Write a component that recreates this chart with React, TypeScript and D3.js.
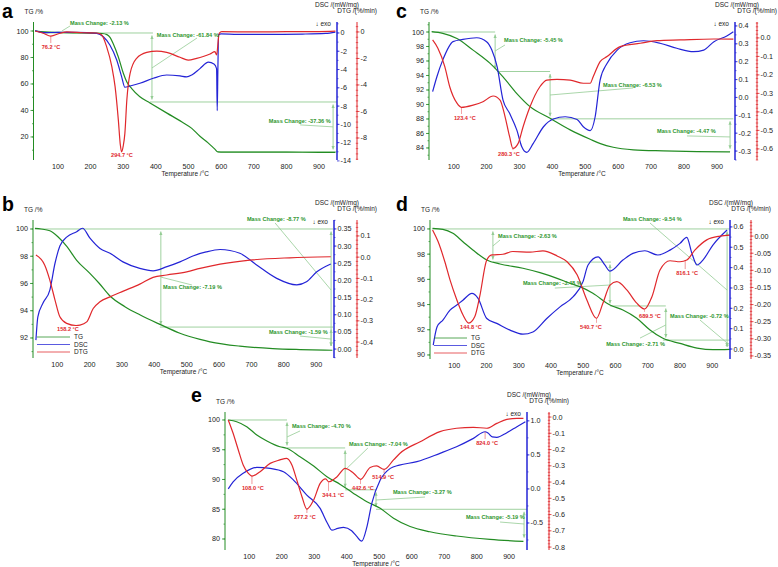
import React from 'react';
import * as d3 from 'd3';

type Pt = [number, number];
type SKey = 'tg' | 'dsc' | 'dtg';

const FONT = '"Liberation Sans", Arial, Helvetica, sans-serif';
const C_TG = '#238c23';
const C_DSC = '#2424d6';
const C_DTG = '#e0282c';
const C_ANN = '#2f962f';
const C_ANN_LINE = '#94cc94';

const tempDomain: [number, number] = [25, 955];
const tempTicks = [100, 200, 300, 400, 500, 600, 700, 800, 900];
const legendNames = ['TG', 'DSC', 'DTG'];

// ---------------- panel a ----------------
const aTG: Pt[] = [[30,100],[60,99.3],[100,98.9],[150,98.6],[200,98.4],[235,98.1],[250,97.3],[260,95],[270,90],[285,80.4],[300,68.3],[311,61.5],[326,56.5],[350,50.5],[382,45.7],[434,38],[480,31.3],[510,26.5],[535,20.5],[560,15.5],[580,11],[590,8.8],[610,8.6],[700,8.5],[800,8.5],[900,8.4],[950,8.4]];
const aDSC: Pt[] = [[30,0.25],[55,0.03],[101,0.07],[157,0.07],[219,-0.04],[239,-0.41],[259,-1.32],[280,-2.96],[295,-4.78],[305,-5.94],[321,-5.8],[351,-5.5],[392,-4.96],[433,-4.6],[474,-4.7],[494,-4.8],[510,-4.6],[535,-3.9],[561,-3.2],[578,-3.4],[586,-3.9],[588,-8.5],[590,-4],[592,-0.2],[600,-0.1],[650,-0.15],[750,-0.15],[850,-0.12],[920,-0.05],[950,0.1]];
const aDTG: Pt[] = [[30,0.07],[55,-0.1],[78,-0.31],[106,-0.1],[127,0.0],[178,-0.06],[219,-0.08],[234,-0.23],[249,-1.11],[265,-2.62],[275,-4.13],[285,-6.65],[291,-8.5],[295,-9.05],[300,-8.6],[305,-7.65],[311,-5.14],[321,-3.12],[341,-1.99],[372,-1.54],[403,-1.44],[433,-1.54],[474,-1.91],[499,-2.12],[525,-1.99],[545,-1.85],[566,-1.66],[581,-1.49],[586,-1.74],[594,-0.1],[602,0.02],[700,0.0],[800,0.02],[900,0.03],[950,0.06]];
const aTGDomain: [number, number] = [2.6, 106.8];
const aDSCDomain: [number, number] = [-13.9, 1.2];
const aDTGDomain: [number, number] = [-9.66, 0.75];
const aTGTicks = [20, 40, 60, 80, 100];
const aDSCTicks = [0, -2, -4, -6, -8, -10, -12, -14];
const aDTGTicks = [0, -2, -4, -6, -8];
const aHLines: [number, number, number][] = [[60, 391, 98.5], [382, 955, 46.4], [590, 955, 8.7]];
const aSteps = [
  { text: 'Mass Change: -2.13 %', at: null, hi: 100, lo: 98.5, tx: 137, ty: 104.5, lead: [112, 100, 137, 103.8] },
  { text: 'Mass Change: -61.84 %', at: 388, hi: 98.5, lo: 46.4, tx: 403, ty: 95.5, lead: [388, 72.1, 526, 94.7] },
  { text: 'Mass Change: -37.36 %', at: 943, hi: 46.4, lo: 8.7, tx: 746, ty: 30.6, lead: [842, 29.1, 943, 27.6] },
];
const aPeaks = [
  { text: '76.2 °C', t: 78, s: 'dtg' as SKey, lt: 78.6, lv: -1.14 },
  { text: '294.7 °C', t: 295, s: 'dtg' as SKey, lt: 296, lv: -9.29 },
];

// ---------------- panel b ----------------
const bTG: Pt[] = [[31,100.05],[50,100.0],[77,99.87],[102,99.43],[130,98.7],[160,97.7],[200,96.76],[230,96.0],[262,95.1],[309,94.3],[355,93.7],[417,93.0],[479,92.35],[541,91.9],[572,91.72],[664,91.4],[766,91.22],[850,91.15],[950,91.1]];
const bDSC: Pt[] = [[34,0.026],[40,0.094],[56,0.134],[77,0.172],[93,0.25],[108,0.30],[130,0.327],[160,0.342],[178,0.352],[201,0.323],[232,0.293],[263,0.279],[303,0.254],[355,0.235],[396,0.228],[439,0.24],[479,0.254],[519,0.271],[560,0.283],[603,0.29],[664,0.279],[716,0.245],[778,0.206],[840,0.187],[870,0.196],[902,0.225],[945,0.248]];
const bDTG: Pt[] = [[34,0.01],[61,-0.037],[77,-0.108],[93,-0.202],[108,-0.281],[129,-0.312],[158,-0.322],[170,-0.32],[191,-0.305],[211,-0.242],[232,-0.21],[263,-0.187],[304,-0.16],[355,-0.127],[396,-0.095],[438,-0.084],[500,-0.069],[541,-0.053],[603,-0.033],[695,-0.014],[818,-0.003],[945,0.002]];
const bTGDomain: [number, number] = [90.53, 100.66];
const bDSCDomain: [number, number] = [-0.026, 0.376];
const bDTGDomain: [number, number] = [-0.475, 0.175];
const bTGTicks = [92, 94, 96, 98, 100];
const bDSCTicks = [0, 0.05, 0.1, 0.15, 0.2, 0.25, 0.3, 0.35];
const bDTGTicks = [0.1, 0, -0.1, -0.2, -0.3, -0.4];
const bHLines: [number, number, number][] = [[31, 952, 100], [417, 952, 92.8]];
const bSteps = [
  { text: 'Mass Change: -7.19 %', at: 420, hi: 100, lo: 92.8, tx: 427, ty: 95.6, lead: [420, 96.47, 516, 95.89] },
  { text: 'Mass Change: -8.77 %', at: 946, hi: 100, lo: 91.23, tx: 686, ty: 100.59, lead: [773, 100.44, 946, 95.52] },
  { text: 'Mass Change: -1.59 %', at: 946, hi: 92.8, lo: 91.23, tx: 754, ty: 92.29, lead: [850, 92.14, 946, 91.92] },
];
const bPeaks = [{ text: '158.2 °C', t: 158, s: 'dtg' as SKey, lt: 133, lv: -0.34 }];

// ---------------- panel c ----------------
const cTG: Pt[] = [[33,100.04],[67,99.8],[110,99.1],[159,97.5],[210,95.7],[250,93.8],[292,91.5],[332,89.7],[393,88.1],[454,86.5],[515,85.2],[546,84.6],[585,84.1],[646,83.75],[737,83.6],[840,83.5],[940,83.45]];
const cDSC: Pt[] = [[36,0.032],[49,0.116],[67,0.21],[98,0.312],[128,0.325],[170,0.334],[200,0.312],[216,0.265],[232,0.172],[250,-0.015],[270,-0.089],[292,-0.183],[307,-0.276],[322,-0.307],[342,-0.257],[373,-0.164],[403,-0.121],[439,-0.108],[475,-0.123],[494,-0.164],[515,-0.186],[530,-0.108],[545,0.097],[566,0.19],[597,0.265],[636,0.306],[677,0.317],[727,0.303],[778,0.275],[829,0.256],[860,0.265],[891,0.312],[930,0.344],[950,0.368]];
const cDTG: Pt[] = [[36,-0.011],[52,-0.056],[73,-0.155],[88,-0.264],[110,-0.353],[123,-0.375],[159,-0.363],[189,-0.345],[220,-0.314],[241,-0.336],[255,-0.417],[270,-0.534],[280,-0.597],[296,-0.57],[311,-0.48],[332,-0.372],[362,-0.264],[383,-0.228],[414,-0.224],[454,-0.228],[494,-0.245],[515,-0.245],[524,-0.21],[545,-0.128],[566,-0.101],[606,-0.047],[667,-0.029],[718,-0.015],[788,-0.011],[891,-0.006],[950,-0.007]];
const cTGDomain: [number, number] = [82.34, 101.38];
const cDSCDomain: [number, number] = [-0.35, 0.422];
const cDTGDomain: [number, number] = [-0.66, 0.086];
const cTGTicks = [84, 86, 88, 90, 92, 94, 96, 98, 100];
const cDSCTicks = [-0.3, -0.2, -0.1, 0, 0.1, 0.2, 0.3, 0.4];
const cDTGTicks = [0, -0.1, -0.2, -0.3, -0.4, -0.5, -0.6];
const cHLines: [number, number, number][] = [[34, 226, 100], [232, 393, 94.55], [393, 950, 88.02]];
const cSteps = [
  { text: 'Mass Change: -5.45 %', at: 226, hi: 100, lo: 94.55, tx: 253, ty: 98.62, lead: [226, 97.38, 256, 98.21] },
  { text: 'Mass Change: -6.53 %', at: 393, hi: 94.55, lo: 88.02, tx: 554, ty: 92.41, lead: [393, 91.31, 645, 92.28] },
  { text: 'Mass Change: -4.47 %', at: 940, hi: 88.02, lo: 83.55, tx: 718, ty: 86.07, lead: [809, 85.66, 940, 85.52] },
];
const cPeaks = [
  { text: '123.4 °C', t: 123.4, s: 'dtg' as SKey, lt: 134, lv: -0.433 },
  { text: '280.3 °C', t: 280.3, s: 'dtg' as SKey, lt: 268, lv: -0.628 },
];

// ---------------- panel d ----------------
const dTG: Pt[] = [[33,100.05],[65,99.97],[96,99.65],[127,98.99],[158,98.33],[201,97.54],[242,97.22],[313,96.88],[366,96.53],[419,96.08],[459,95.69],[490,95.42],[530,94.89],[583,93.96],[623,93.57],[666,92.91],[707,91.98],[747,91.32],[800,90.92],[853,90.55],[902,90.42],[955,90.45]];
const dDSC: Pt[] = [[35,0.019],[47,0.109],[65,0.142],[87,0.191],[108,0.216],[127,0.24],[155,0.273],[174,0.249],[201,0.15],[232,0.126],[273,0.093],[313,0.073],[344,0.084],[387,0.15],[428,0.207],[469,0.257],[499,0.33],[515,0.413],[546,0.453],[567,0.413],[583,0.383],[623,0.437],[654,0.47],[691,0.483],[731,0.462],[769,0.486],[800,0.519],[821,0.549],[837,0.47],[853,0.413],[871,0.437],[902,0.511],[946,0.585]];
const dDTG: Pt[] = [[33,0.018],[50,-0.016],[71,-0.075],[87,-0.128],[108,-0.186],[127,-0.23],[145,-0.254],[164,-0.235],[179,-0.177],[201,-0.07],[217,-0.055],[251,-0.053],[282,-0.045],[335,-0.047],[375,-0.043],[419,-0.058],[450,-0.075],[481,-0.113],[511,-0.186],[541,-0.24],[561,-0.196],[583,-0.143],[604,-0.133],[635,-0.157],[666,-0.196],[690,-0.213],[713,-0.177],[738,-0.099],[769,-0.072],[800,-0.075],[821,-0.07],[846,-0.041],[883,-0.011],[924,0.0],[955,0.003]];
const dTGDomain: [number, number] = [89.68, 100.71];
const dDSCDomain: [number, number] = [-0.049, 0.634];
const dDTGDomain: [number, number] = [-0.359, 0.047];
const dTGTicks = [90, 92, 94, 96, 98, 100];
const dDSCTicks = [0, 0.1, 0.2, 0.3, 0.4, 0.5, 0.6];
const dDTGTicks = [0, -0.05, -0.1, -0.15, -0.2, -0.25, -0.3, -0.35];
const dHLines: [number, number, number][] = [[31, 955, 100], [220, 586, 97.37], [583, 756, 93.89], [747, 955, 91.18]];
const dSteps = [
  { text: 'Mass Change: -2.63 %', at: 220, hi: 100, lo: 97.37, tx: 236, ty: 99.28, lead: [220, 98.65, 242, 99.12] },
  { text: 'Mass Change: -3.48 %', at: 583, hi: 97.37, lo: 93.89, tx: 313, ty: 95.55, lead: [412, 95.31, 583, 95.55] },
  { text: 'Mass Change: -9.54 %', at: 946, hi: 100, lo: 90.46, tx: 623, ty: 100.63, lead: [707, 100.47, 946, 95.15] },
  { text: 'Mass Change: -0.72 %', at: 946, hi: 91.18, lo: 90.46, tx: 769, ty: 92.93, lead: [862, 92.77, 946, 90.95] },
  { text: 'Mass Change: -2.71 %', at: 756, hi: 93.89, lo: 91.18, tx: 571, ty: 90.71, lead: [676, 91.34, 756, 92.38] },
];
const dPeaks = [
  { text: '144.8 °C', t: 144.8, s: 'dtg' as SKey, lt: 152, lv: -0.265 },
  { text: '540.7 °C', t: 540.7, s: 'dtg' as SKey, lt: 524, lv: -0.265 },
  { text: '689.5 °C', t: 689.5, s: 'dtg' as SKey, lt: 707, lv: -0.233 },
  { text: '816.1 °C', t: 816.1, s: 'dtg' as SKey, lt: 822, lv: -0.108 },
];

// ---------------- panel e ----------------
const eTG: Pt[] = [[35,100],[61,99.71],[92,98.87],[123,97.47],[154,96.47],[194,95.5],[215,95.24],[256,93.83],[298,92.26],[339,90.47],[380,89.17],[421,87.66],[462,86.26],[503,85.15],[544,83.5],[595,82.1],[656,81.22],[738,80.5],[841,79.94],[944,79.6]];
const eDSC: Pt[] = [[35,0.0],[50,0.105],[81,0.229],[123,0.317],[164,0.302],[205,0.252],[236,0.13],[277,-0.091],[318,-0.286],[340,-0.5],[354,-0.605],[372,-0.58],[390,-0.565],[415,-0.615],[430,-0.694],[446,-0.767],[462,-0.557],[477,-0.213],[503,0.13],[534,0.302],[562,0.35],[616,0.4],[687,0.523],[738,0.62],[790,0.743],[826,0.84],[835,0.82],[848,0.765],[862,0.758],[893,0.826],[924,0.914],[950,0.987]];
const eDTG: Pt[] = [[35,-0.018],[50,-0.1],[66,-0.203],[81,-0.295],[97,-0.347],[108,-0.363],[133,-0.336],[164,-0.285],[194,-0.264],[215,-0.254],[231,-0.295],[246,-0.387],[262,-0.49],[277,-0.566],[298,-0.51],[318,-0.408],[335,-0.38],[344,-0.398],[370,-0.367],[395,-0.316],[421,-0.346],[443,-0.383],[472,-0.31],[492,-0.301],[515,-0.322],[544,-0.264],[564,-0.223],[626,-0.152],[687,-0.09],[738,-0.069],[790,-0.063],[831,-0.069],[862,-0.039],[893,-0.014],[924,-0.008],[944,-0.008]];
const eTGDomain: [number, number] = [78.15, 101.34];
const eDSCDomain: [number, number] = [-0.897, 1.13];
const eDTGDomain: [number, number] = [-0.818, 0.031];
const eTGTicks = [80, 85, 90, 95, 100];
const eDSCTicks = [-0.5, 0, 0.5, 1.0];
const eDTGTicks = [0, -0.1, -0.2, -0.3, -0.4, -0.5, -0.6, -0.7, -0.8];
const eHLines: [number, number, number][] = [[34, 216, 100], [216, 395, 95.3], [395, 490, 88.26], [490, 955, 84.99]];
const eSteps = [
  { text: 'Mass Change: -4.70 %', at: 216, hi: 100, lo: 95.3, tx: 231, ty: 98.65, lead: [216, 97.14, 256, 98.15] },
  { text: 'Mass Change: -7.04 %', at: 395, hi: 95.3, lo: 88.26, tx: 407, ty: 95.63, lead: [395, 91.59, 465, 95.29] },
  { text: 'Mass Change: -3.27 %', at: 490, hi: 88.26, lo: 84.99, tx: 542, ty: 87.56, lead: [490, 86.55, 641, 87.05] },
  { text: 'Mass Change: -5.19 %', at: 946, hi: 84.99, lo: 79.8, tx: 767, ty: 83.36, lead: [872, 82.85, 946, 82.52] },
];
const ePeaks = [
  { text: '108.0 °C', t: 108, s: 'dtg' as SKey, lt: 111, lv: -0.437 },
  { text: '277.2 °C', t: 277.2, s: 'dtg' as SKey, lt: 271, lv: -0.615 },
  { text: '344.1 °C', t: 344.1, s: 'dtg' as SKey, lt: 358, lv: -0.48 },
  { text: '442.6 °C', t: 442.6, s: 'dtg' as SKey, lt: 450, lv: -0.437 },
  { text: '514.9 °C', t: 514.9, s: 'dtg' as SKey, lt: 512, lv: -0.369 },
  { text: '824.0 °C', t: 826, s: 'dsc' as SKey, lt: 832, lv: 0.674 },
];

// ---------------- layout ----------------
const panels = [
  { letter: 'a', lx: 2, ly: 17.5, x0: 33.5, x1: 337, dtgX: 357, top: 22, bottom: 160, tg: aTG, dsc: aDSC, dtg: aDTG, tgD: aTGDomain, dscD: aDSCDomain, dtgD: aDTGDomain, tgT: aTGTicks, dscT: aDSCTicks, dtgT: aDTGTicks, tgDec: 0, dscDec: 0, dtgDec: 0, hl: aHLines, steps: aSteps, peaks: aPeaks, legend: false },
  { letter: 'b', lx: 2, ly: 211, x0: 33, x1: 334, dtgX: 357, top: 220, bottom: 358, tg: bTG, dsc: bDSC, dtg: bDTG, tgD: bTGDomain, dscD: bDSCDomain, dtgD: bDTGDomain, tgT: bTGTicks, dscT: bDSCTicks, dtgT: bDTGTicks, tgDec: 0, dscDec: 2, dtgDec: 1, hl: bHLines, steps: bSteps, peaks: bPeaks, legend: true },
  { letter: 'c', lx: 396, ly: 17.5, x0: 429, x1: 735, dtgX: 757, top: 22, bottom: 160, tg: cTG, dsc: cDSC, dtg: cDTG, tgD: cTGDomain, dscD: cDSCDomain, dtgD: cDTGDomain, tgT: cTGTicks, dscT: cDSCTicks, dtgT: cDTGTicks, tgDec: 0, dscDec: 1, dtgDec: 1, hl: cHLines, steps: cSteps, peaks: cPeaks, legend: false },
  { letter: 'd', lx: 396, ly: 211, x0: 430, x1: 730, dtgX: 751, top: 220, bottom: 359, tg: dTG, dsc: dDSC, dtg: dDTG, tgD: dTGDomain, dscD: dDSCDomain, dtgD: dDTGDomain, tgT: dTGTicks, dscT: dDSCTicks, dtgT: dDTGTicks, tgDec: 0, dscDec: 1, dtgDec: 2, hl: dHLines, steps: dSteps, peaks: dPeaks, legend: true },
  { letter: 'e', lx: 191, ly: 402, x0: 225, x1: 527, dtgX: 549, top: 412, bottom: 550, tg: eTG, dsc: eDSC, dtg: eDTG, tgD: eTGDomain, dscD: eDSCDomain, dtgD: eDTGDomain, tgT: eTGTicks, dscT: eDSCTicks, dtgT: eDTGTicks, tgDec: 0, dscDec: 1, dtgDec: 1, hl: eHLines, steps: eSteps, peaks: ePeaks, legend: false },
];

function fmt(v: number, dec: number) {
  const r = Math.abs(v) < 1e-9 ? 0 : v;
  return r.toFixed(dec);
}

function minorTicks(ticks: number[], domain: [number, number], n: number) {
  const s = [...ticks].sort((a, b) => a - b);
  const step = (s[1] - s[0]) / n;
  const lo = Math.min(domain[0], domain[1]);
  const hi = Math.max(domain[0], domain[1]);
  const out: number[] = [];
  for (let v = s[0]; v >= lo - 1e-9; v -= step) out.push(v);
  for (let v = s[0] + step; v <= hi + 1e-9; v += step) out.push(v);
  return out;
}

function interp(data: Pt[], t: number) {
  for (let i = 0; i < data.length - 1; i++) {
    const [t0, v0] = data[i];
    const [t1, v1] = data[i + 1];
    if (t >= t0 && t <= t1) return v0 + ((v1 - v0) * (t - t0)) / (t1 - t0);
  }
  return data[data.length - 1][1];
}

function Panel({ p }: { p: any }) {
  const x = d3.scaleLinear().domain(tempDomain).range([p.x0, p.x1]);
  const yTG = d3.scaleLinear().domain(p.tgD).range([p.bottom, p.top]);
  const yDSC = d3.scaleLinear().domain(p.dscD).range([p.bottom, p.top]);
  const yDTG = d3.scaleLinear().domain(p.dtgD).range([p.bottom, p.top]);
  const ys: Record<SKey, d3.ScaleLinear<number, number>> = { tg: yTG, dsc: yDSC, dtg: yDTG };
  const data: Record<SKey, Pt[]> = { tg: p.tg, dsc: p.dsc, dtg: p.dtg };
  const mk = (y: d3.ScaleLinear<number, number>) =>
    d3.line<Pt>().x((d) => x(d[0])).y((d) => y(d[1])).curve(d3.curveMonotoneX);

  const dscMinor = minorTicks(p.dscT, p.dscD, 2);
  const dtgMinor = minorTicks(p.dtgT, p.dtgD, 5);
  const tgMinor = minorTicks(p.tgT, p.tgD, 2);
  const fs = 7.2;

  return (
    <g>
      {/* panel letter */}
      <text x={p.lx} y={p.ly} fontSize={19.5} fontWeight="bold" fill="#000">{p.letter}</text>
      {/* axis titles */}
      <text x={p.x0 - 9} y={p.top - 8.5} fontSize={6.5} fill="#222">TG /%</text>
      <text x={p.dtgX + 2} y={p.top - 15.5} fontSize={6.5} fill="#222" textAnchor="end">DSC /(mW/mg)</text>
      <text x={p.dtgX + 20} y={p.top - 9} fontSize={6.5} fill="#222" textAnchor="end">DTG /(%/min)</text>
      <text x={(p.x0 + p.x1) / 2} y={p.bottom + 16} fontSize={6.5} fill="#222" textAnchor="middle">Temperature /°C</text>
      <text x={p.x1 - 6} y={p.top + 4} fontSize={6.5} fill="#222" textAnchor="end">↓ exo</text>

      {/* annotation reference lines */}
      {p.hl.map((h: [number, number, number], i: number) => (
        <line key={'h' + i} x1={x(h[0])} x2={x(h[1])} y1={yTG(h[2])} y2={yTG(h[2])} stroke={C_ANN_LINE} strokeWidth={0.9} />
      ))}
      {p.steps.map((s: any, i: number) => {
        const els: any[] = [];
        if (s.at !== null) {
          const ax = x(s.at);
          const y1 = yTG(s.hi) + 2.5;
          const y2 = yTG(s.lo) - 2.5;
          els.push(<line key="l" x1={ax} x2={ax} y1={y1} y2={y2} stroke={C_ANN_LINE} strokeWidth={0.9} />);
          els.push(<path key="a1" d={`M${ax},${y1} l-1.6,3.5 h3.2 z`} fill={C_ANN_LINE} />);
          els.push(<path key="a2" d={`M${ax},${y2} l-1.6,-3.5 h3.2 z`} fill={C_ANN_LINE} />);
        }
        els.push(
          <line key="ld" x1={x(s.lead[0])} y1={yTG(s.lead[1])} x2={x(s.lead[2])} y2={yTG(s.lead[3])} stroke={C_ANN_LINE} strokeWidth={0.8} />
        );
        return <g key={'s' + i}>{els}</g>;
      })}

      {/* curves */}
      <path d={mk(yTG)(p.tg) || ''} fill="none" stroke={C_TG} strokeWidth={1.2} />
      <path d={mk(yDSC)(p.dsc) || ''} fill="none" stroke={C_DSC} strokeWidth={1.2} />
      <path d={mk(yDTG)(p.dtg) || ''} fill="none" stroke={C_DTG} strokeWidth={1.2} />

      {/* x axis labels (no axis line in the original) */}
      {tempTicks.map((t) => (
        <text key={'xt' + t} x={x(t)} y={p.bottom + 9} fontSize={fs} fill="#222" textAnchor="middle">{t}</text>
      ))}

      {/* TG axis */}
      <line x1={p.x0} x2={p.x0} y1={p.top} y2={p.bottom} stroke={C_TG} strokeWidth={1} />
      {tgMinor.map((v, i) => (
        <line key={'tgm' + i} x1={p.x0 - 1.5} x2={p.x0} y1={yTG(v)} y2={yTG(v)} stroke={C_TG} strokeWidth={0.7} />
      ))}
      {p.tgT.map((v: number) => (
        <g key={'tg' + v}>
          <line x1={p.x0 - 3} x2={p.x0} y1={yTG(v)} y2={yTG(v)} stroke={C_TG} strokeWidth={0.8} />
          <text x={p.x0 - 5} y={yTG(v) + 2.5} fontSize={fs} fill="#222" textAnchor="end">{fmt(v, p.tgDec)}</text>
        </g>
      ))}

      {/* DSC axis */}
      <line x1={p.x1} x2={p.x1} y1={p.top} y2={p.bottom} stroke={C_DSC} strokeWidth={1.5} />
      {dscMinor.map((v, i) => (
        <line key={'dsm' + i} x1={p.x1} x2={p.x1 + 1.5} y1={yDSC(v)} y2={yDSC(v)} stroke={C_DSC} strokeWidth={0.7} />
      ))}
      {p.dscT.map((v: number) => (
        <g key={'ds' + v}>
          <line x1={p.x1} x2={p.x1 + 2.5} y1={yDSC(v)} y2={yDSC(v)} stroke={C_DSC} strokeWidth={0.8} />
          <text x={p.x1 + 3.5} y={yDSC(v) + 2.5} fontSize={fs} fill="#222">{fmt(v, p.dscDec)}</text>
        </g>
      ))}

      {/* DTG axis */}
      <line x1={p.dtgX} x2={p.dtgX} y1={p.top} y2={p.bottom} stroke={C_DTG} strokeWidth={1} />
      {dtgMinor.map((v, i) => (
        <line key={'dtm' + i} x1={p.dtgX - 1.2} x2={p.dtgX + 1.2} y1={yDTG(v)} y2={yDTG(v)} stroke={C_DTG} strokeWidth={0.7} />
      ))}
      {p.dtgT.map((v: number) => (
        <g key={'dt' + v}>
          <line x1={p.dtgX} x2={p.dtgX + 2.5} y1={yDTG(v)} y2={yDTG(v)} stroke={C_DTG} strokeWidth={0.8} />
          <text x={p.dtgX + 3.5} y={yDTG(v) + 2.5} fontSize={fs} fill="#222">{fmt(v, p.dtgDec)}</text>
        </g>
      ))}

      {/* peak labels */}
      {p.peaks.map((pk: any, i: number) => {
        const y = ys[pk.s as SKey];
        const cx = x(pk.t);
        const cy = y(interp(data[pk.s as SKey], pk.t));
        const ly = y(pk.lv);
        const col = C_DTG;
        return (
          <g key={'pk' + i}>
            {ly - 4 > cy + 1 && <line x1={cx} x2={cx} y1={cy} y2={ly - 4} stroke={col} strokeWidth={0.6} opacity={0.8} />}
            <text x={x(pk.lt)} y={ly + 2} fontSize={5.6} fontWeight="bold" fill={col} textAnchor="middle">{pk.text}</text>
          </g>
        );
      })}

      {/* mass change texts */}
      {p.steps.map((s: any, i: number) => (
        <text key={'st' + i} x={x(s.tx)} y={yTG(s.ty)} fontSize={5.6} fontWeight="bold" fill={C_ANN}>{s.text}</text>
      ))}

      {/* legend */}
      {p.legend &&
        legendNames.map((n, i) => {
          const col = [C_TG, C_DSC, C_DTG][i];
          const ly = p.bottom - 21 + i * 7.5;
          return (
            <g key={'lg' + n}>
              <line x1={p.x0 + 4} x2={p.x0 + 37} y1={ly} y2={ly} stroke={col} strokeWidth={1} opacity={0.75} />
              <text x={p.x0 + 41} y={ly + 2.3} fontSize={6.5} fill="#222">{n}</text>
            </g>
          );
        })}
    </g>
  );
}

export default function App() {
  return (
    <svg
      width={778}
      height={567}
      viewBox="0 0 778 567"
      style={{ position: 'absolute', left: 0, top: 0, background: '#fff' }}
      fontFamily={FONT}
    >
      <rect x={0} y={0} width={778} height={567} fill="#fff" />
      {panels.map((p) => (
        <Panel key={p.letter} p={p} />
      ))}
    </svg>
  );
}
